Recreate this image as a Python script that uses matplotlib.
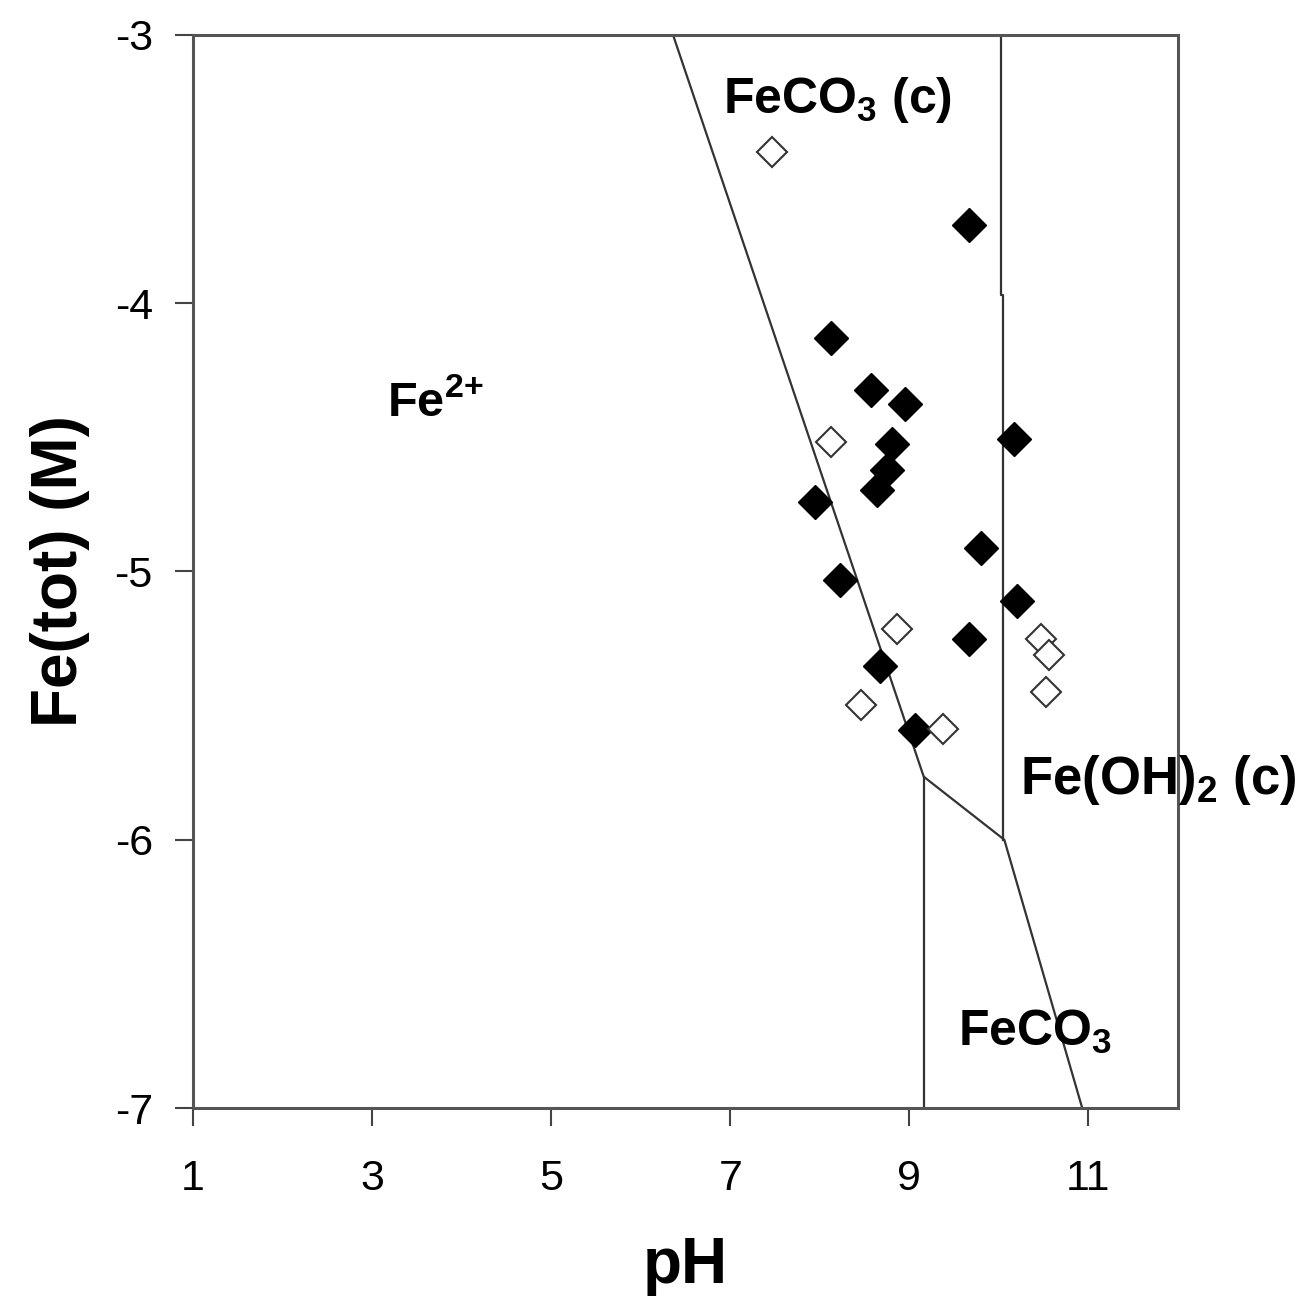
import matplotlib.pyplot as plt

plt.rcParams['font.family'] = ['Liberation Sans', 'DejaVu Sans']
plt.rcParams['axes.unicode_minus'] = False

# phase boundaries (pH, log Fe(tot))
line_a_ph = [6.36, 9.16, 10.06, 10.93]
line_a_fe = [-3.0, -5.765, -6.0, -7.0]
line_b_ph = [9.16, 9.16]
line_b_fe = [-5.765, -7.0]
line_c_ph = [10.02, 10.02, 10.05, 10.05]
line_c_fe = [-3.0, -3.97, -3.97, -6.0]

# measured samples
filled_ph = [9.67, 8.12, 8.57, 8.95, 10.17, 8.80, 8.75, 8.64, 7.95, 9.80,
             8.22, 10.20, 9.67, 8.67, 9.06]
filled_fe = [-3.709, -4.13, -4.325, -4.377, -4.507, -4.526, -4.623, -4.698,
             -4.74, -4.914, -5.03, -5.11, -5.25, -5.354, -5.59]
open_ph = [7.47, 8.12, 8.86, 8.46, 9.37, 10.47, 10.56, 10.52]
open_fe = [-3.437, -4.519, -5.213, -5.496, -5.586, -5.25, -5.313, -5.45]

x_ticks = [1, 3, 5, 7, 9, 11]
y_ticks = [-3, -4, -5, -6, -7]

fig = plt.figure(figsize=(13.05, 13.15), dpi=100)
ax = fig.add_axes([0.148, 0.1574, 0.7547, 0.816])

for xs, ys in [(line_a_ph, line_a_fe), (line_b_ph, line_b_fe), (line_c_ph, line_c_fe)]:
    ax.plot(xs, ys, color='#333333', linewidth=1.6, zorder=2)

ax.plot(filled_ph, filled_fe, linestyle='none', marker='D', markersize=17,
        color='black', markeredgecolor='black', zorder=3)
ax.plot(open_ph, open_fe, linestyle='none', marker='D', markersize=15.5,
        markerfacecolor='white', markeredgecolor='#333333', markeredgewidth=1.5, zorder=3)

# region labels
ax.text(6.92, -3.291, r'FeCO$_\mathregular{3}$ (c)', fontsize=36, fontweight='bold',
        ha='left', va='baseline')
ax.text(3.17, -4.425, r'Fe$^{\mathregular{2{+}}}$', fontsize=35, fontweight='bold',
        ha='left', va='baseline')
ax.text(10.24, -5.828, r'Fe(OH)$_\mathregular{2}$ (c)', fontsize=38, fontweight='bold',
        ha='left', va='baseline', clip_on=False)
ax.text(9.54, -6.769, r'FeCO$_\mathregular{3}$', fontsize=36, fontweight='bold',
        ha='left', va='baseline')

ax.set_xlim(1, 12)
ax.set_ylim(-7, -3)
ax.set_xticks(x_ticks)
ax.set_yticks(y_ticks)
ax.tick_params(direction='out', length=13, width=1.5, labelsize=31,
               color='#444444')
ax.tick_params(axis='x', pad=24)
ax.tick_params(axis='y', pad=16)

for s in ax.spines.values():
    s.set_linewidth(2.2)
    s.set_color('#555555')

ax.set_xlabel('pH', fontsize=46, fontweight='bold', labelpad=26)
ax.set_ylabel('Fe(tot) (M)', fontsize=46, fontweight='bold', labelpad=18)

fig.savefig('out.png', dpi=100)
